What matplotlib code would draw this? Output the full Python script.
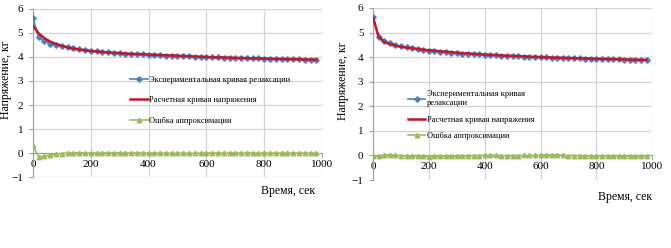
import matplotlib
matplotlib.use("Agg")
import matplotlib.pyplot as plt

plt.rcParams['font.family'] = ['Liberation Serif', 'DejaVu Serif']

# time, sec
t = list(range(0, 1000, 20))

# experimental relaxation curve (same for both charts)
exp_left = [5.63, 4.82, 4.65, 4.56, 4.49, 4.44, 4.40, 4.36, 4.32, 4.28,
            4.25, 4.23, 4.21, 4.19, 4.18, 4.16, 4.14, 4.13, 4.12, 4.11,
            4.10, 4.09, 4.07, 4.06, 4.05, 4.04, 4.03, 4.02, 4.01, 4.00,
            4.00, 3.99, 3.98, 3.97, 3.97, 3.96, 3.95, 3.95, 3.94, 3.94,
            3.93, 3.92, 3.92, 3.91, 3.91, 3.90, 3.90, 3.89, 3.89, 3.88]
exp_right = exp_left

# calculated curves
fit_left = [5.30, 4.98, 4.78, 4.64, 4.54, 4.46, 4.40, 4.35, 4.31, 4.28,
            4.25, 4.23, 4.21, 4.19, 4.17, 4.16, 4.14, 4.13, 4.12, 4.11,
            4.10, 4.09, 4.08, 4.07, 4.06, 4.05, 4.04, 4.03, 4.02, 4.01,
            4.00, 3.99, 3.98, 3.98, 3.97, 3.96, 3.96, 3.95, 3.94, 3.94,
            3.93, 3.93, 3.92, 3.92, 3.91, 3.91, 3.90, 3.90, 3.89, 3.89]
fit_right = [5.60, 4.82, 4.62, 4.53, 4.47, 4.42, 4.39, 4.36, 4.33, 4.30,
             4.28, 4.26, 4.24, 4.22, 4.20, 4.18, 4.16, 4.15, 4.13, 4.12,
             4.10, 4.09, 4.08, 4.07, 4.06, 4.05, 4.04, 4.03, 4.02, 4.01,
             4.00, 3.99, 3.98, 3.98, 3.97, 3.96, 3.96, 3.95, 3.95, 3.94,
             3.93, 3.93, 3.92, 3.92, 3.91, 3.91, 3.90, 3.90, 3.89, 3.89]

# approximation error
err_left = [0.33, -0.16, -0.13, -0.08, -0.05, -0.02, 0.00, 0.01, 0.01, 0.00,
            0.00, 0.00, 0.00, 0.00, 0.01, 0.00, 0.00, 0.00, 0.00, 0.00,
            0.00, 0.00, -0.01, -0.01, -0.01, -0.01, -0.01, -0.01, -0.01, -0.01,
            0.00, 0.00, 0.00, -0.01, 0.00, 0.00, -0.01, 0.00, 0.00, 0.00,
            0.00, -0.01, 0.00, -0.01, 0.00, -0.01, 0.00, -0.01, 0.00, -0.01]
err_right = [-0.03, -0.04, 0.02, 0.02, 0.01, -0.01, -0.02, -0.03, -0.03, -0.04,
             -0.05, -0.04, -0.04, -0.03, -0.03, -0.03, -0.02, -0.02, -0.01, -0.01,
             0.00, 0.00, 0.00, -0.01, -0.01, -0.01, -0.01, 0.00, 0.00, 0.00,
             0.01, 0.02, 0.03, 0.02, 0.00, -0.01, -0.01, -0.01, -0.02, -0.02,
             -0.02, -0.02, -0.02, -0.03, -0.03, -0.03, -0.03, -0.04, -0.04, -0.04]

labels = ['Экспериментальная кривая релаксации',
          'Расчетная кривая напряжения',
          'Ошбка аппроксимации']
labels_right = ['Экспериментальная кривая\nрелаксации', labels[1], labels[2]]

blue = '#4F81BD'
red = '#C0182A'
green = '#9BBB59'

fig = plt.figure(figsize=(6.71, 2.48), dpi=100)
ax1 = fig.add_axes([0.049, 0.286, 0.431, 0.678])
ax2 = fig.add_axes([0.556, 0.274, 0.416, 0.694])


def draw(ax, exp, fit, err, labs, leg_pos, spacing, xlab_pos, ylab_x):
    ax.plot(t, exp, color=blue, marker='D', markersize=2.8, lw=1.2, label=labs[0], zorder=3)
    ax.plot(t, fit, color=red, lw=1.8, label=labs[1], zorder=4)
    ax.plot(t, err, color=green, marker='^', markersize=3.2, lw=1.2, label=labs[2], zorder=3)
    ax.set_xlim(0, 1000)
    ax.set_ylim(-1, 6)
    ax.set_xticks(range(0, 1001, 200))
    ax.set_yticks(range(-1, 7))
    ax.grid(True, color='#D4D4D4', lw=0.9)
    ax.set_axisbelow(True)
    for s in ['top', 'right']:
        ax.spines[s].set_visible(False)
    ax.spines['bottom'].set_position(('data', 0))
    ax.spines['bottom'].set_color('#A0A0A0')
    ax.spines['left'].set_color('#A0A0A0')
    ax.tick_params(axis='both', labelsize=8, colors='#A0A0A0', length=3, labelcolor='black')
    ax.tick_params(axis='x', pad=2)
    ax.tick_params(axis='y', pad=4)
    ax.set_ylabel('Напряжение, кг', fontsize=8.5)
    ax.yaxis.set_label_coords(ylab_x, 0.577)
    ax.text(xlab_pos[0], xlab_pos[1], 'Время, сек', transform=ax.transAxes,
            ha='right', va='center', fontsize=8.5)
    ax.legend(loc='center left', bbox_to_anchor=leg_pos, frameon=False, fontsize=6,
              handlelength=2.1, handletextpad=0.15, labelspacing=spacing,
              borderpad=0, borderaxespad=0)


draw(ax1, exp_left, fit_left, err_left, labels, (0.336, 0.458), 1.5, (0.976, -0.083), -0.073)
draw(ax2, exp_right, fit_right, err_right, labels_right, (0.125, 0.378), 1.0, (1.0, -0.1), -0.086)

fig.savefig('out.png', dpi=100)
